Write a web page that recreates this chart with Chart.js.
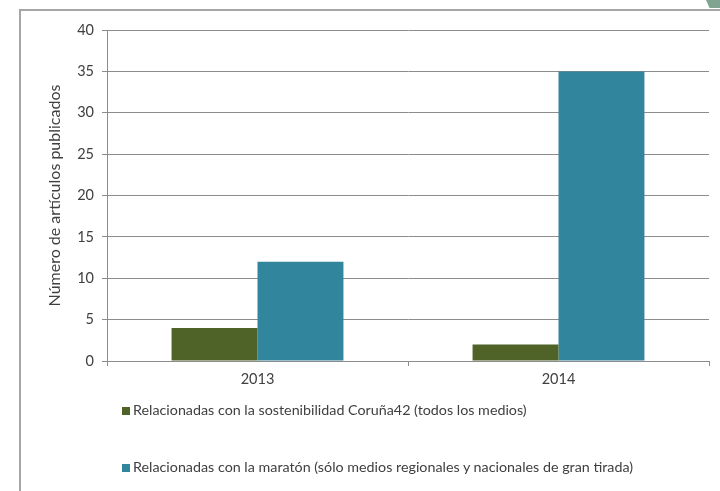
<!DOCTYPE html>
<html>
<head>
<meta charset="utf-8">
<script src="https://cdn.jsdelivr.net/npm/chart.js@4/dist/chart.umd.min.js"></script>
<style>
    body { margin: 0; background: #fff; }
    #wrap { position: relative; width: 720px; height: 491px; overflow: hidden; font-family: Lato, "Open Sans", sans-serif; }
    #frame { position: absolute; left: 19px; top: 9px; width: 720px; height: 500px; border-left: 2px solid #a6a6a6; border-top: 2px solid #a6a6a6; }
    #corner { position: absolute; left: 706px; top: 0; width: 14px; height: 8px; background: #7fa592; clip-path: polygon(0 0, 100% 0, 100% 100%, 25% 100%); }
    canvas { position: absolute; left: 0; top: 0; }
    .legend-item { position: absolute; left: 122px; font-size: 14.3px; color: #404040; white-space: nowrap; }
    .legend-item span { display: inline-block; width: 8px; height: 8px; margin-right: 3px; vertical-align: 0; }
</style>
</head>
<body>
<div id="wrap">
    <div id="frame"></div>
    <div id="corner"></div>
    <canvas id="chart" width="720" height="491"></canvas>
</div>
<script>
// ===== Data =====
const years = ['2013', '2014'];
const sostenibilidad = [4, 2];
const maraton = [12, 35];
const seriesNames = [
    'Relacionadas con la sostenibilidad Coruña42 (todos los medios)',
    'Relacionadas con la maratón (sólo medios regionales y nacionales de gran tirada)'
];
const seriesColors = ['#4f6228', '#31859c'];
const yTicks = [0, 5, 10, 15, 20, 25, 30, 35, 40];

const gridColor = '#8c8c8c';

new Chart(document.getElementById('chart'), {
    type: 'bar',
    data: {
        labels: years,
        datasets: [
            { label: seriesNames[0], data: sostenibilidad, backgroundColor: seriesColors[0] },
            { label: seriesNames[1], data: maraton, backgroundColor: seriesColors[1] }
        ]
    },
    options: {
        responsive: false,
        animation: false,
        layout: { padding: { top: 30, right: 11, left: 0, bottom: 0 } },
        datasets: { bar: { categoryPercentage: 0.571, barPercentage: 1 } },
        plugins: {
            legend: { display: false },
            tooltip: { enabled: false }
        },
        scales: {
            x: {
                afterFit: function(scale) { scale.height = 130; },
                grid: { display: true, drawOnChartArea: false, color: gridColor, tickLength: 5 },
                border: { color: gridColor },
                ticks: { color: '#404040', padding: 5, font: { family: 'Lato', size: 14.5 } }
            },
            y: {
                min: 0,
                max: 40,
                afterFit: function(scale) { scale.width = 107; },
                afterBuildTicks: function(scale) { scale.ticks = yTicks.map(v => ({ value: v })); },
                grid: { color: gridColor, tickLength: 5 },
                border: { color: gridColor },
                ticks: { color: '#404040', padding: 8, font: { family: 'Lato', size: 14.5 } },
                title: {
                    display: true,
                    text: 'Número de artículos publicados',
                    color: '#404040',
                    font: { family: 'Lato', size: 16 },
                    padding: { top: 45, bottom: 0 }
                }
            }
        }
    }
});

// ===== Legend (stacked, left aligned) =====
const wrap = document.getElementById('wrap');
const legendTops = [401, 458];
seriesNames.forEach((name, i) => {
    const item = document.createElement('div');
    item.className = 'legend-item';
    item.style.top = legendTops[i] + 'px';
    item.innerHTML = '<span style="background:' + seriesColors[i] + '"></span>' + name;
    wrap.appendChild(item);
});
</script>
</body>
</html>
